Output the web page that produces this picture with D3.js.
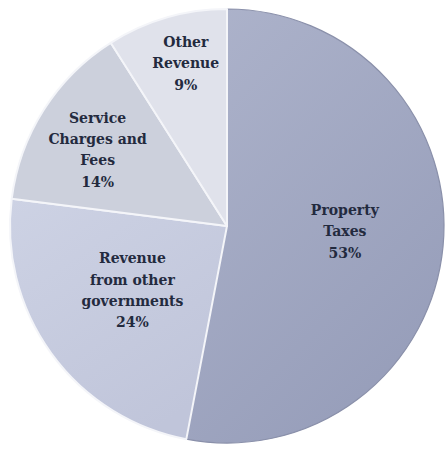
<!DOCTYPE html>
<html>
<head>
<meta charset="utf-8">
<script src="https://cdn.jsdelivr.net/npm/d3@7"></script>
<style>
  body { margin: 0; background: #fff; }
  svg { display: block; }
</style>
</head>
<body>
<svg width="448" height="449"></svg>
<script>
const categories = ['Property Taxes', 'Revenue from other governments', 'Service Charges and Fees', 'Other Revenue'];
const shares = [53, 24, 14, 9];
const labelLines = [
  ['Property', 'Taxes', '53%'],
  ['Revenue', 'from other', 'governments', '24%'],
  ['Service', 'Charges and', 'Fees', '14%'],
  ['Other', 'Revenue', '9%']
];

const svg = d3.select('svg');
const cx = 227, cy = 226, r = 217;
const colors = ['url(#gProp)', 'url(#gGov)', '#ccd0dc', '#e0e2eb'];
// how far out each label sits, as a share of radius, plus small nudges
const labelR = [0.55, 0.55, 0.69, 0.78];
const nudge = [[-1, -1], [2, -1], [-3, 9], [6, 5]];

const defs = svg.append('defs');
const addGrad = (id, stops) => {
  const g = defs.append('linearGradient').attr('id', id)
    .attr('x1', '0%').attr('y1', '0%').attr('x2', '60%').attr('y2', '100%');
  stops.forEach(([o, c]) => g.append('stop').attr('offset', o).attr('stop-color', c));
};
addGrad('gProp', [['0%', '#adb3cb'], ['100%', '#979eba']]);
addGrad('gGov', [['0%', '#cdd2e4'], ['100%', '#c0c5da']]);

const pie = d3.pie().sort(null).value(d => d);
const arc = d3.arc().innerRadius(0).outerRadius(r);
const g = svg.append('g').attr('transform', `translate(${cx},${cy})`);

const arcs = pie(shares);

g.selectAll('path.slice')
  .data(arcs)
  .enter().append('path')
  .attr('class', 'slice')
  .attr('d', arc)
  .attr('fill', (d, i) => colors[i])
  .attr('stroke', (d, i) => i === 0 ? '#8a90aa' : '#f4f5f9')
  .attr('stroke-width', (d, i) => i === 0 ? 1.2 : 2)
  .attr('stroke-linejoin', 'round');

const labels = g.selectAll('text.lbl')
  .data(arcs)
  .enter().append('text')
  .attr('class', 'lbl')
  .attr('text-anchor', 'middle')
  .attr('font-family', '"DejaVu Serif", serif')
  .attr('font-weight', 'bold')
  .attr('font-size', 14)
  .attr('fill', '#232a3e')
  .attr('transform', (d, i) => {
    const la = d3.arc().innerRadius(r * labelR[i]).outerRadius(r * labelR[i]);
    const [x, y] = la.centroid(d);
    return `translate(${x + nudge[i][0]},${y + nudge[i][1]})`;
  });

labels.each(function(d, i) {
  const lines = labelLines[i];
  const lh = 21.3;
  const start = -(lines.length - 1) * lh / 2;
  d3.select(this).selectAll('tspan')
    .data(lines)
    .enter().append('tspan')
    .attr('x', 0)
    .attr('y', (t, j) => start + j * lh)
    .text(t => t);
});
</script>
</body>
</html>
